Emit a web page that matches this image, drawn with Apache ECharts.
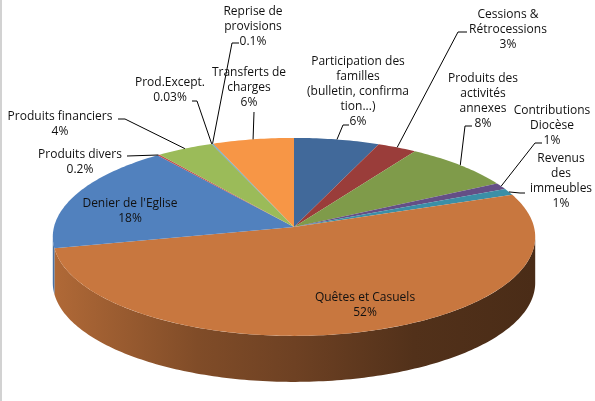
<!DOCTYPE html>
<html lang="fr">
<head>
<meta charset="UTF-8">
<title>Répartition des ressources</title>
<script src="https://cdn.jsdelivr.net/npm/echarts@6/dist/echarts.min.js"></script>
<style>
    html, body { margin: 0; padding: 0; background: #ffffff; }
    #Chart1 { width: 595px; height: 401px; }
</style>
</head>
<body>
<div id="Chart1"></div>
<script>

// slices, clockwise from 12 o'clock
var categories = [
    'Participation des\nfamilles\n(bulletin, confirma\ntion...)',
    'Cessions &\nRétrocessions',
    'Produits des\nactivités\nannexes',
    'Contributions\nDiocèse',
    'Revenus\ndes\nimmeubles',
    'Quêtes et Casuels',
    "Denier de l'Eglise",
    'Produits divers',
    'Produits financiers',
    'Prod.Except.',
    'Reprise de\nprovisions',
    'Transferts de\ncharges'
];
// share of each slice in %
var values = [6.3, 2.9, 8.1, 1.1, 1.1, 52.1, 17.9, 0.2, 4.2, 0.03, 0.1, 6.0];

var colors = ['#41699A', '#9A3D3A', '#7F9B4A', '#644F86', '#3B8FA7', '#C8773F',
              '#5181BE', '#C0504D', '#9BBB59', '#8064A2', '#4BACC6', '#F79646'];

// label placement (centre x, first line centre y) and leader elbow points
var labelLayout = [
    { x: 358, y: 62,  leader: [[349, 125], [343, 125]] },
    { x: 508, y: 15,  leader: [[467, 32], [458, 32]] },
    { x: 483, y: 79,  leader: [[472, 126], [465, 126]] },
    { x: 552, y: 111, leader: [[542, 143], [535, 143]] },
    { x: 561, y: 159, leader: [[525, 193], [520, 193]] },
    { x: 365, y: 298, leader: null },
    { x: 130, y: 204, leader: null },
    { x: 80,  y: 155, leader: [[127, 156]] },
    { x: 60,  y: 117, leader: [[118, 119], [125, 119]] },
    { x: 170, y: 83,  leader: [[192, 101], [197, 101]] },
    { x: 253, y: 12,  leader: [[239, 43], [232, 43]] },
    { x: 249, y: 73,  leader: [[254, 112]] }
];

// pie geometry (tilted disc seen with a little perspective)
var cx = 294, cy = 227, rx = 240, ry = 98, persp = 0.1, depth = 46;
var LINE_H = 15;

var total = values.reduce(function (a, b) { return a + b; }, 0);
var startAngle = [], endAngle = [];
var acc = 0;
for (var i = 0; i < values.length; i++) {
    startAngle.push(acc / total * Math.PI * 2);
    acc += values[i];
    endAngle.push(acc / total * Math.PI * 2);
}

function rim(theta, dy) {
    var u = Math.sin(theta), v = -Math.cos(theta);
    var s = 1 / (1 - persp * v);
    return [cx + rx * u * s, cy + ry * v * s + (dy || 0)];
}

function arcPoints(a0, a1, dy) {
    var pts = [];
    var n = Math.max(2, Math.ceil((a1 - a0) / (Math.PI / 180)));
    for (var k = 0; k <= n; k++) {
        pts.push(rim(a0 + (a1 - a0) * k / n, dy));
    }
    return pts;
}

function shade(hex, f) {
    var r = parseInt(hex.substr(1, 2), 16), g = parseInt(hex.substr(3, 2), 16), b = parseInt(hex.substr(5, 2), 16);
    return 'rgb(' + Math.round(r * f) + ',' + Math.round(g * f) + ',' + Math.round(b * f) + ')';
}

function formatPct(v) {
    var p = v / total * 100;
    return (p >= 1 ? Math.round(p) : Number(p.toPrecision(1))) + '%';
}

// visible part of the side wall (between the two silhouette points)
var wallMin = Math.acos(-persp);
var wallMax = Math.PI * 2 - wallMin;

function renderItem(params, api) {
    var idx = params.dataIndex;
    var a0 = startAngle[idx], a1 = endAngle[idx];
    var color = colors[idx];
    var children = [];

    // side wall
    var b0 = Math.max(a0, wallMin), b1 = Math.min(a1, wallMax);
    if (b1 > b0) {
        var top = arcPoints(b0, b1, 0);
        var bottom = arcPoints(b0, b1, depth).reverse();
        children.push({
            type: 'polygon',
            z2: 1,
            shape: { points: top.concat(bottom) },
            style: {
                fill: new echarts.graphic.LinearGradient(cx - rx, 0, cx + rx, 0, [
                    { offset: 0, color: shade(color, 0.88) },
                    { offset: 0.3, color: shade(color, 0.64) },
                    { offset: 0.5, color: shade(color, 0.55) },
                    { offset: 0.75, color: shade(color, 0.41) },
                    { offset: 1, color: shade(color, 0.37) }
                ], true)
            }
        });
    }

    // top face
    children.push({
        type: 'polygon',
        z2: 2,
        shape: { points: [[cx, cy]].concat(arcPoints(a0, a1, 0)) },
        style: { fill: color }
    });

    // leader line to the middle of the slice rim
    var lay = labelLayout[idx];
    if (lay.leader) {
        var anchor = rim((a0 + a1) / 2, 0);
        children.push({
            type: 'polyline',
            z2: 3,
            shape: { points: lay.leader.concat([anchor]) },
            style: { stroke: '#000000', lineWidth: 1, fill: null }
        });
    }

    // label
    children.push({
        type: 'text',
        z2: 4,
        x: lay.x,
        y: lay.y - LINE_H / 2,
        style: {
            text: categories[idx] + '\n' + formatPct(values[idx]),
            fill: '#111111',
            fontFamily: 'Open Sans',
            fontSize: 12,
            lineHeight: LINE_H,
            align: 'center',
            verticalAlign: 'top'
        }
    });

    return { type: 'group', children: children };
}

var myChart1 = echarts.init(document.getElementById('Chart1'));

var option = {
    backgroundColor: '#ffffff',
    animation: false,
    graphic: [
        { type: 'rect', left: 0, top: 0, shape: { width: 2, height: 401 }, style: { fill: '#d2d2d2' }, silent: true }
    ],
    series: [
        {
            type: 'custom',
            coordinateSystem: 'none',
            silent: true,
            renderItem: renderItem,
            data: values.map(function (v, i) {
                return { name: categories[i], value: v };
            })
        }
    ]
};

myChart1.setOption(option);

</script>
</body>
</html>
